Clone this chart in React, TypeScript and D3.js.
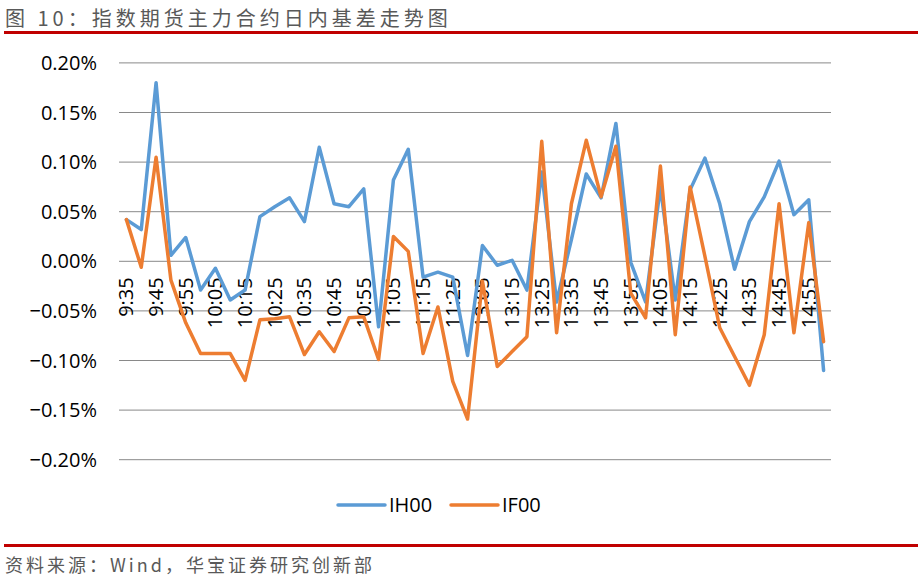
import React from "react";
import * as d3 from "d3";

const categories = [
  "9:35","9:40","9:45","9:50","9:55","10:00","10:05","10:10","10:15","10:20","10:25","10:30",
  "10:35","10:40","10:45","10:50","10:55","11:00","11:05","11:10","11:15","11:20","11:25","11:30",
  "13:05","13:10","13:15","13:20","13:25","13:30","13:35","13:40","13:45","13:50","13:55","14:00",
  "14:05","14:10","14:15","14:20","14:25","14:30","14:35","14:40","14:45","14:50","14:55","15:00",
];

// values in percent
const ih00 = [
  0.042,0.032,0.180,0.006,0.024,-0.029,-0.007,-0.039,-0.029,0.045,0.055,0.064,
  0.040,0.115,0.058,0.055,0.073,-0.066,0.082,0.113,-0.016,-0.011,-0.016,-0.095,
  0.016,-0.004,0.001,-0.029,0.090,-0.041,0.022,0.088,0.064,0.139,-0.001,-0.041,
  0.075,-0.039,0.072,0.104,0.058,-0.008,0.040,0.065,0.101,0.047,0.062,-0.110,
];
const if00 = [
  0.042,-0.006,0.105,-0.019,-0.062,-0.093,-0.093,-0.093,-0.120,-0.059,-0.058,-0.056,
  -0.094,-0.071,-0.091,-0.057,-0.056,-0.099,0.025,0.010,-0.093,-0.046,-0.121,-0.159,
  -0.020,-0.106,-0.091,-0.076,0.121,-0.072,0.058,0.122,0.065,0.116,-0.032,-0.057,
  0.096,-0.074,0.075,0.005,-0.067,-0.096,-0.125,-0.074,0.058,-0.072,0.039,-0.081,
];
const yTicks = [0.2, 0.15, 0.1, 0.05, 0, -0.05, -0.1, -0.15, -0.2];
const seriesNames = ["IH00", "IF00"];
const colors = ["#5B9BD5", "#ED7D31"];

const W = 923, H = 584;
const PL = 119, PR = 831, PT = 62.9, PB = 459.7;
const FONT = "'Open Sans', 'Noto Sans', sans-serif";
const CJK = "'Noto Sans CJK SC', sans-serif";

export default function App() {
  const x = d3.scaleBand<string>().domain(categories).range([PL, PR]);
  const y = d3.scaleLinear().domain([-0.2, 0.2]).range([PB, PT]);
  const cx = (c: string) => (x(c) as number) + x.bandwidth() / 2;
  const line = d3
    .line<number>()
    .x((_, i) => cx(categories[i]))
    .y((d) => y(d));
  const series = [ih00, if00];
  const y0 = y(0);

  return (
    <svg
      width={W}
      height={H}
      style={{ position: "absolute", left: 0, top: 0, background: "#fff" }}
    >
      <rect x={0} y={0} width={W} height={H} fill="#fff" />
      <text x={5} y={26} fontFamily={CJK} fontSize={20} fill="#595959" letterSpacing={4}>
        图 10：指数期货主力合约日内基差走势图
      </text>
      <line x1={4} x2={918} y1={32.5} y2={32.5} stroke="#C00000" strokeWidth={3} />

      {yTicks.map((t) => (
        <g key={t}>
          <line x1={PL} x2={PR} y1={y(t)} y2={y(t)} stroke="#898989" strokeWidth={1} />
          <text
            x={97}
            y={y(t)}
            dy="0.35em"
            textAnchor="end"
            fontFamily={FONT}
            fontSize={20}
            fill="#000"
          >
            {d3.format(".2f")(t) + "%"}
          </text>
        </g>
      ))}

      {categories.map((c, i) =>
        i % 2 === 0 ? (
          <text
            key={c}
            transform={`translate(${cx(c)},${y0 + 16}) rotate(-90)`}
            textAnchor="end"
            dy="0.35em"
            fontFamily={FONT}
            fontSize={20}
            fill="#000"
          >
            {c}
          </text>
        ) : null
      )}

      {series.map((s, k) => (
        <path
          key={k}
          d={line(s) as string}
          fill="none"
          stroke={colors[k]}
          strokeWidth={3.5}
          strokeLinejoin="round"
          strokeLinecap="round"
        />
      ))}

      {seriesNames.map((n, k) => {
        const lx = 338 + k * 113;
        return (
          <g key={n}>
            <line
              x1={lx}
              x2={lx + 47}
              y1={505}
              y2={505}
              stroke={colors[k]}
              strokeWidth={3.5}
              strokeLinecap="round"
            />
            <text x={lx + 51} y={505} dy="0.35em" fontFamily={FONT} fontSize={20} fill="#000">
              {n}
            </text>
          </g>
        );
      })}

      <line x1={4} x2={918} y1={545.5} y2={545.5} stroke="#C00000" strokeWidth={3} />
      <text x={5} y={572} fontFamily={CJK} fontSize={18} fill="#595959" letterSpacing={3}>
        资料来源：Wind，华宝证券研究创新部
      </text>
    </svg>
  );
}
